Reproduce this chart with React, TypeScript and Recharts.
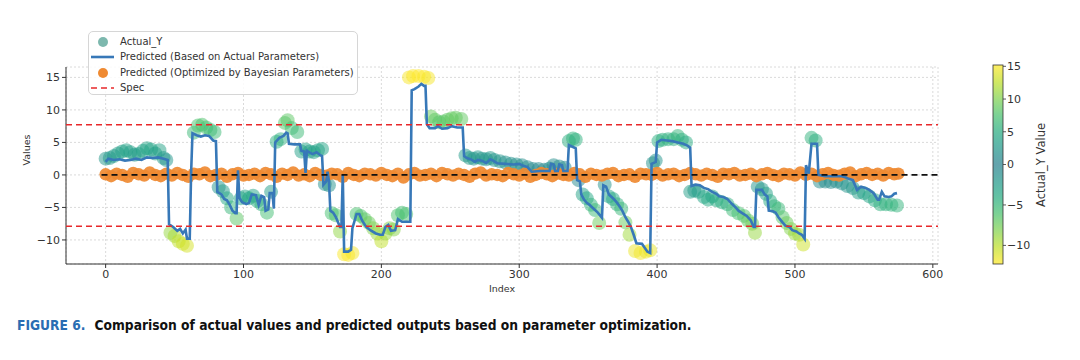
import React from 'react';
import { ComposedChart, Line, Scatter, XAxis, YAxis, CartesianGrid } from 'recharts';

// [index, value] pairs
const predicted: [number, number][] = [
  [0, 2.0], [2, 2.5], [6, 2.3], [10, 2.4], [14, 2.2], [18, 2.3], [22, 2.5], [26, 2.3], [30, 2.7], [34, 2.6],
  [38, 2.7], [42, 2.5], [45, 2.3], [46, -7.6], [49, -8.0], [52, -8.6], [54, -8.3], [56, -9.0], [58, -8.4], [59, -9.8],
  [61, -9.8], [62, 0.3], [63, 6.4], [66, 6.1], [69, 5.9], [72, 6.1], [75, 6.0], [78, 5.3], [80, 5.2], [81, -2.6],
  [84, -3.0], [86, -3.7], [88, -3.9], [90, -4.6], [92, -5.5], [94, -5.9], [95, -5.9], [96, 0.7], [97, -3.5], [99, -4.2],
  [102, -4.5], [104, -4.3], [106, -3.0], [109, -3.1], [111, -4.6], [113, -3.2], [115, -3.4], [116, -5.5], [118, -5.3], [119, -2.8],
  [121, -2.8], [122, -5.2], [123, 5.0], [126, 5.7], [129, 6.0], [131, 6.5], [132, 6.4], [133, 4.8], [137, 4.7], [141, 4.7],
  [142, 3.7], [144, 3.6], [145, 0.3], [146, 3.7], [150, 3.2], [153, 3.5], [156, 3.0], [157, 2.9], [158, -1.5], [160, -1.0],
  [161, 0.5], [162, -1.0], [163, -5.5], [165, -5.8], [167, -6.5], [170, -8.0], [171, -8.0], [172, 0.0], [173, -11.8], [176, -11.8],
  [178, -11.5], [179, -8.2], [182, -6.0], [184, -6.0], [186, -7.0], [189, -8.0], [192, -8.5], [196, -9.0], [199, -9.2], [201, -9.2],
  [203, -8.0], [205, -7.7], [207, -8.6], [210, -8.5], [212, -6.8], [215, -7.2], [221, -7.2], [222, 13.0], [224, 13.2], [227, 13.6],
  [229, 14.0], [231, 13.7], [232, 13.7], [233, 7.8], [235, 7.2], [239, 7.2], [241, 7.5], [244, 7.1], [248, 7.2], [251, 7.5],
  [255, 7.3], [259, 7.3], [260, 2.9], [262, 2.6], [265, 2.4], [268, 2.0], [270, 2.3], [273, 2.2], [276, 1.8], [279, 2.4],
  [281, 2.2], [284, 1.8], [290, 1.7], [296, 1.6], [300, 1.7], [303, 1.4], [306, 1.2], [309, 0.5], [315, 0.6], [322, 0.6],
  [323, 1.7], [325, 1.6], [326, 0.6], [328, 0.6], [329, 1.6], [331, 1.5], [332, 0.6], [335, 0.6], [336, 4.6], [339, 4.3],
  [341, 4.1], [342, -0.8], [344, -1.0], [345, -3.0], [347, -3.8], [349, -4.3], [351, -4.6], [353, -5.0], [355, -5.4], [357, -5.8],
  [360, -6.6], [361, -1.6], [363, -1.8], [365, -3.0], [367, -3.4], [369, -3.8], [371, -4.3], [373, -4.9], [375, -5.6], [377, -6.5],
  [379, -7.2], [381, -8.0], [383, -9.2], [385, -10.5], [389, -10.6], [391, -11.2], [393, -11.8], [395, -12.0], [396, 1.7], [398, 1.9],
  [399, 2.0], [400, 5.0], [403, 5.4], [407, 5.3], [411, 5.2], [415, 5.0], [419, 4.8], [422, 4.5], [424, 4.2], [425, -1.7],
  [428, -1.5], [431, -1.6], [434, -2.0], [437, -2.2], [440, -2.6], [443, -2.9], [445, -3.3], [448, -3.4], [451, -3.7], [454, -4.4],
  [457, -5.0], [459, -5.5], [462, -5.9], [465, -6.3], [468, -7.0], [470, -8.0], [471, -8.0], [472, -2.3], [476, -2.3], [478, -3.0],
  [480, -3.3], [481, -5.5], [484, -5.6], [486, -5.8], [488, -6.5], [491, -7.3], [493, -7.8], [496, -8.0], [498, -8.5], [501, -8.7],
  [503, -9.0], [505, -9.2], [507, -9.8], [508, 1.5], [510, 0.2], [512, 4.8], [516, 4.8], [517, 0.0], [522, -0.2], [528, -0.2],
  [534, -0.2], [537, -0.4], [539, -0.6], [542, -0.8], [545, -2.3], [548, -1.8], [551, -2.0], [554, -2.3], [557, -2.8], [560, -3.8],
  [561, -3.8], [563, -2.6], [565, -3.3], [568, -3.4], [570, -3.3], [572, -2.9], [574, -2.8],
];

const actual: [number, number][] = [
  [0, 2.5], [3, 2.6], [6, 2.9], [9, 3.3], [12, 3.6], [15, 3.8], [18, 3.5], [21, 3.1], [24, 3.2], [27, 3.7],
  [30, 4.1], [33, 3.9], [36, 3.3], [39, 3.8], [42, 2.6], [44, 2.3], [47, -8.9], [50, -9.4], [53, -10.2], [56, -10.6],
  [59, -10.9], [64, 6.5], [67, 7.6], [70, 7.7], [73, 7.3], [76, 6.9], [79, 6.6], [82, -1.9], [85, -2.5], [88, -3.6],
  [91, -5.0], [95, -6.7], [98, -3.6], [101, -3.3], [104, -3.6], [107, -3.2], [110, -4.0], [113, -4.5], [117, -5.8], [120, -2.6],
  [124, 5.1], [127, 5.5], [130, 8.0], [132, 8.4], [135, 7.2], [139, 6.6], [142, 3.6], [145, 3.9], [148, 3.6], [151, 3.5],
  [154, 3.8], [157, 4.0], [159, -1.4], [162, -1.6], [164, -5.9], [167, -6.2], [170, -8.7], [173, -12.2], [176, -12.3], [179, -12.0],
  [182, -6.0], [185, -6.3], [188, -6.8], [191, -7.4], [194, -8.2], [197, -9.0], [200, -10.2], [203, -9.0], [206, -8.2], [209, -8.4],
  [212, -6.2], [215, -5.8], [218, -6.0], [220, 15.0], [223, 15.2], [227, 15.2], [231, 15.1], [234, 14.9], [236, 9.0], [239, 8.5],
  [242, 8.1], [245, 8.2], [248, 8.5], [251, 8.7], [254, 8.8], [258, 8.6], [261, 3.0], [264, 2.6], [267, 2.5], [270, 2.7],
  [273, 2.5], [276, 2.4], [279, 2.6], [282, 2.3], [286, 2.1], [290, 1.9], [294, 1.7], [298, 1.6], [302, 1.5], [306, 1.2],
  [310, 0.9], [314, 0.9], [318, 0.8], [322, 1.0], [325, 1.5], [329, 1.3], [333, 1.1], [336, 5.2], [339, 5.6], [341, 5.4],
  [343, -0.8], [346, -3.0], [349, -3.6], [352, -4.6], [355, -5.4], [358, -7.4], [362, -1.5], [365, -3.3], [368, -3.7], [371, -4.5],
  [374, -5.2], [377, -7.3], [380, -9.2], [384, -11.7], [388, -12.0], [392, -11.8], [395, -11.6], [397, 1.8], [399, 2.2], [401, 5.2],
  [404, 5.4], [408, 5.5], [412, 5.5], [415, 6.0], [418, 5.4], [421, 5.0], [424, -2.6], [427, -2.4], [430, -2.6], [434, -3.4],
  [437, -3.8], [440, -3.3], [443, -3.9], [447, -4.2], [451, -4.5], [455, -5.4], [459, -5.9], [463, -6.3], [466, -7.0], [469, -7.5],
  [471, -8.9], [473, -1.8], [476, -2.2], [479, -2.9], [482, -4.0], [485, -4.8], [488, -5.2], [491, -6.5], [494, -7.4], [497, -8.3],
  [500, -9.0], [503, -9.2], [506, -10.7], [512, 5.7], [515, 5.3], [518, -1.0], [522, -1.0], [526, -1.1], [530, -1.0], [534, -1.3],
  [538, -1.7], [542, -2.0], [546, -2.7], [550, -2.8], [554, -3.3], [558, -3.9], [562, -4.5], [566, -4.5], [570, -4.6], [574, -4.7],
];

const optimizedIndex = [
  0, 4, 8, 12, 16, 20, 24, 28, 32, 36, 40, 44, 48, 52, 56, 60, 64, 68, 72, 76,
  80, 84, 88, 92, 96, 100, 104, 108, 112, 116, 120, 124, 128, 132, 136, 140, 144, 148, 152, 156,
  160, 164, 168, 172, 176, 180, 184, 188, 192, 196, 200, 204, 208, 212, 216, 220, 224, 228, 232, 236,
  240, 244, 248, 252, 256, 260, 264, 268, 272, 276, 280, 284, 288, 292, 296, 300, 304, 308, 312, 316,
  320, 324, 328, 332, 336, 340, 344, 348, 352, 356, 360, 364, 368, 372, 376, 380, 384, 388, 392, 396,
  400, 404, 408, 412, 416, 420, 424, 428, 432, 436, 440, 444, 448, 452, 456, 460, 464, 468, 472, 476,
  480, 484, 488, 492, 496, 500, 504, 508, 512, 516, 520, 524, 528, 532, 536, 540, 544, 548, 552, 556,
  560, 564, 568, 572, 575,
];
const optimizedY = [
  0.1, -0.2, 0.2, 0.0, -0.3, 0.3, 0.1, -0.1, 0.4, 0.0, -0.2, 0.2, -0.1, 0.3, 0.0, -0.3, 0.2, 0.1, 0.4, -0.2,
  0.0, 0.2, -0.3, 0.1, 0.3, -0.1, 0.0, 0.2, -0.2, 0.3, 0.1, -0.3, 0.2, 0.0, 0.4, -0.1, 0.1, -0.2, 0.3, 0.0,
  -0.1, 0.2, 0.1, -0.3, 0.3, 0.0, -0.2, 0.2, 0.1, -0.1, 0.3, 0.0, -0.2, 0.2, -0.4, 0.1, 0.3, -0.1, 0.0, 0.2,
  -0.2, 0.3, 0.1, -0.1, 0.2, 0.0, -0.3, 0.2, 0.4, -0.1, 0.1, 0.0, -0.2, 0.3, 0.1, -0.1, 0.2, -0.3, 0.0, 0.3,
  0.1, -0.2, 0.2, 0.0, -0.1, 0.3, 0.1, -0.3, 0.2, 0.0, -0.1, 0.2, 0.3, -0.2, 0.0, 0.1, -0.3, 0.2, 0.1, 0.0,
  0.3, -0.1, 0.1, 0.2, -0.2, 0.0, 0.3, 0.1, -0.1, 0.2, 0.0, -0.3, 0.2, 0.1, 0.3, -0.1, 0.0, 0.2, -0.2, 0.1,
  0.3, 0.0, -0.2, 0.2, 0.1, -0.1, 0.4, 0.0, 0.2, -0.2, 0.1, 0.3, 0.0, -0.1, 0.2, 0.4, -0.2, 0.1, 0.3, 0.0,
  0.2, -0.1, 0.3, 0.1, 0.2,
];

const xTicks = [0, 100, 200, 300, 400, 500, 600];
const yTicks = [-10, -5, 0, 5, 10, 15];
const colorbarTicks = [15, 10, 5, 0, -5, -10];
const xDomain = [-28.75, 603.75];
const yDomain = [-13.7, 16.6];
const specUpper = 7.7;
const specLower = -7.9;
const zeroLineStart = -3;
const actualMax = 15.2;
const actualMin = -12.3;

const predData = predicted.map(([i, v]) => ({ i, v }));
const actualData = actual.map(([i, v]) => ({ i, v }));
const optData = optimizedIndex.map((i, k) => ({ i, v: optimizedY[k] }));
const zeroData = [{ i: zeroLineStart, v: 0 }, { i: xDomain[1], v: 0 }];
const specUpperData = [{ i: xDomain[0], v: specUpper }, { i: xDomain[1], v: specUpper }];
const specLowerData = [{ i: xDomain[0], v: specLower }, { i: xDomain[1], v: specLower }];

// viridis, upper half only -> both ends yellow, centre teal
const VIRIDIS: [number, number[]][] = [
  [0.4, [42, 120, 142]], [0.5, [33, 145, 140]], [0.6, [34, 168, 132]], [0.7, [66, 190, 113]],
  [0.8, [122, 209, 81]], [0.9, [189, 223, 38]], [1.0, [253, 231, 37]],
];
const normVal = (v: number) => (v >= 0 ? Math.min(v / actualMax, 1) : Math.min(v / actualMin, 1));
const cmap = (v: number) => {
  const s = 0.43 + 0.57 * normVal(v);
  for (let k = 1; k < VIRIDIS.length; k++) {
    const [s1, c1] = VIRIDIS[k];
    const [s0, c0] = VIRIDIS[k - 1];
    if (s <= s1) {
      const f = (s - s0) / (s1 - s0);
      const c = c0.map((a, j) => Math.round(a + (c1[j] - a) * f));
      return `rgb(${c[0]},${c[1]},${c[2]})`;
    }
  }
  return 'rgb(253,231,37)';
};

const minus = (v: number) => String(v).replace('-', '\u2212');

const ActualDot = (props: any) => (
  <circle cx={props.cx} cy={props.cy} r={7} fill={cmap(props.payload.v)} fillOpacity={0.5} />
);
const OptDot = (props: any) => (
  <circle cx={props.cx} cy={props.cy} r={6.2} fill="#ef8a32" fillOpacity={0.92} />
);

const CB_TOP = 25;
const CB_H = 199;
const cbY = (v: number) => CB_TOP + (v >= 0 ? 0.5 - 0.5 * v / actualMax : 0.5 + 0.5 * v / actualMin) * CB_H;

const Colorbar = () => {
  const stops = [];
  for (let k = 0; k <= 24; k++) {
    const f = k / 24;
    const v = f < 0.5 ? actualMax * (1 - 2 * f) : actualMin * (2 * f - 1);
    stops.push(<stop key={k} offset={f} stopColor={cmap(v)} />);
  }
  return (
    <svg width={100} height={240} style={{ position: 'absolute', left: 980, top: 40 }}>
      <defs>
        <linearGradient id="cb" x1="0" y1="0" x2="0" y2="1">{stops}</linearGradient>
      </defs>
      <rect x={13} y={CB_TOP} width={10} height={CB_H} fill="url(#cb)" fillOpacity={0.72} stroke="#333" strokeWidth={0.8} />
      {colorbarTicks.map((t) => (
        <g key={t}>
          <line x1={23} x2={26} y1={cbY(t)} y2={cbY(t)} stroke="#333" strokeWidth={0.8} />
          <text x={27} y={cbY(t)} dy="0.35em" fontSize={11} fill="#333" fontFamily="DejaVu Sans">{minus(t)}</text>
        </g>
      ))}
      <text transform={`translate(61, 125) rotate(-90)`} textAnchor="middle" dy="0.35em" fontSize={11.5} fill="#333" fontFamily="DejaVu Sans">
        Actual_Y Value
      </text>
    </svg>
  );
};

const legendRow = (top: number, marker: React.ReactNode, label: string) => (
  <div style={{ position: 'absolute', left: 0, top, height: 14, width: 268 }}>
    <svg width={30} height={14} style={{ position: 'absolute', left: 0, top: 0 }}>{marker}</svg>
    <span style={{ position: 'absolute', left: 31, top: 0, lineHeight: '14px' }}>{label}</span>
  </div>
);

const lineProps: any = { dot: false, isAnimationActive: false, zIndex: 700 };

const App = () => {
  return (
    <div style={{ position: 'fixed', left: 0, top: 0, width: 1080, height: 360, background: '#fff', fontFamily: 'DejaVu Sans' }}>
      <ComposedChart width={1080} height={300} margin={{ top: 67, right: 142, bottom: 6, left: 16 }}>
        <CartesianGrid stroke="#d0d0d0" strokeDasharray="2 2" strokeWidth={0.8} />
        <XAxis
          dataKey="i"
          type="number"
          domain={xDomain}
          ticks={xTicks}
          allowDataOverflow
          height={30}
          tickSize={4}
          stroke="#333"
          tick={{ fontSize: 11, fill: '#333' }}
          label={{ value: 'Index', position: 'insideBottom', offset: 2, fontSize: 9.5, fill: '#333' }}
        />
        <YAxis
          type="number"
          domain={yDomain}
          ticks={yTicks}
          allowDataOverflow
          width={50}
          tickSize={4}
          stroke="#333"
          tickFormatter={minus}
          tick={{ fontSize: 11, fill: '#333' }}
          label={{ value: 'Values', angle: -90, position: 'insideLeft', offset: 11, fontSize: 9.5, fill: '#333' }}
        />
        <Scatter data={actualData} dataKey="v" shape={<ActualDot />} isAnimationActive={false} />
        <Scatter data={optData} dataKey="v" shape={<OptDot />} isAnimationActive={false} />
        <Line data={predData} dataKey="v" type="linear" stroke="#3778b8" strokeWidth={2.6} {...lineProps} />
        <Line data={zeroData} dataKey="v" stroke="#111" strokeWidth={1.8} strokeDasharray="6 4" {...lineProps} />
        <Line data={specUpperData} dataKey="v" stroke="#e8282b" strokeWidth={1.5} strokeDasharray="6 4" {...lineProps} />
        <Line data={specLowerData} dataKey="v" stroke="#e8282b" strokeWidth={1.5} strokeDasharray="6 4" {...lineProps} />
      </ComposedChart>

      <div style={{ position: 'absolute', left: 88, top: 31, width: 268, height: 62, border: '1px solid #d6d6d6', borderRadius: 5, background: 'rgba(255,255,255,0.85)', fontSize: 10, color: '#333' }}>
        {legendRow(3, <circle cx={14} cy={7} r={5} fill="#7db8ae" />, 'Actual_Y')}
        {legendRow(18, <line x1={2} x2={25} y1={7} y2={7} stroke="#3778b8" strokeWidth={2.6} />, 'Predicted (Based on Actual Parameters)')}
        {legendRow(33.5, <circle cx={14} cy={7} r={5} fill="#ef8a32" />, 'Predicted (Optimized by Bayesian Parameters)')}
        {legendRow(49, <line x1={2} x2={25} y1={7} y2={7} stroke="#e8282b" strokeWidth={1.5} strokeDasharray="6 4" />, 'Spec')}
      </div>

      <Colorbar />

      <div style={{ position: 'absolute', left: 17, top: 317, fontFamily: 'DejaVu Sans', fontStretch: 'condensed', fontWeight: 'bold', fontSize: 13.7, color: '#111', whiteSpace: 'nowrap' }}>
        <span style={{ color: '#2a6db2' }}>FIGURE 6.</span>
        <span style={{ marginLeft: 9 }}>Comparison of actual values and predicted outputs based on parameter optimization.</span>
      </div>
    </div>
  );
};

export default App;
